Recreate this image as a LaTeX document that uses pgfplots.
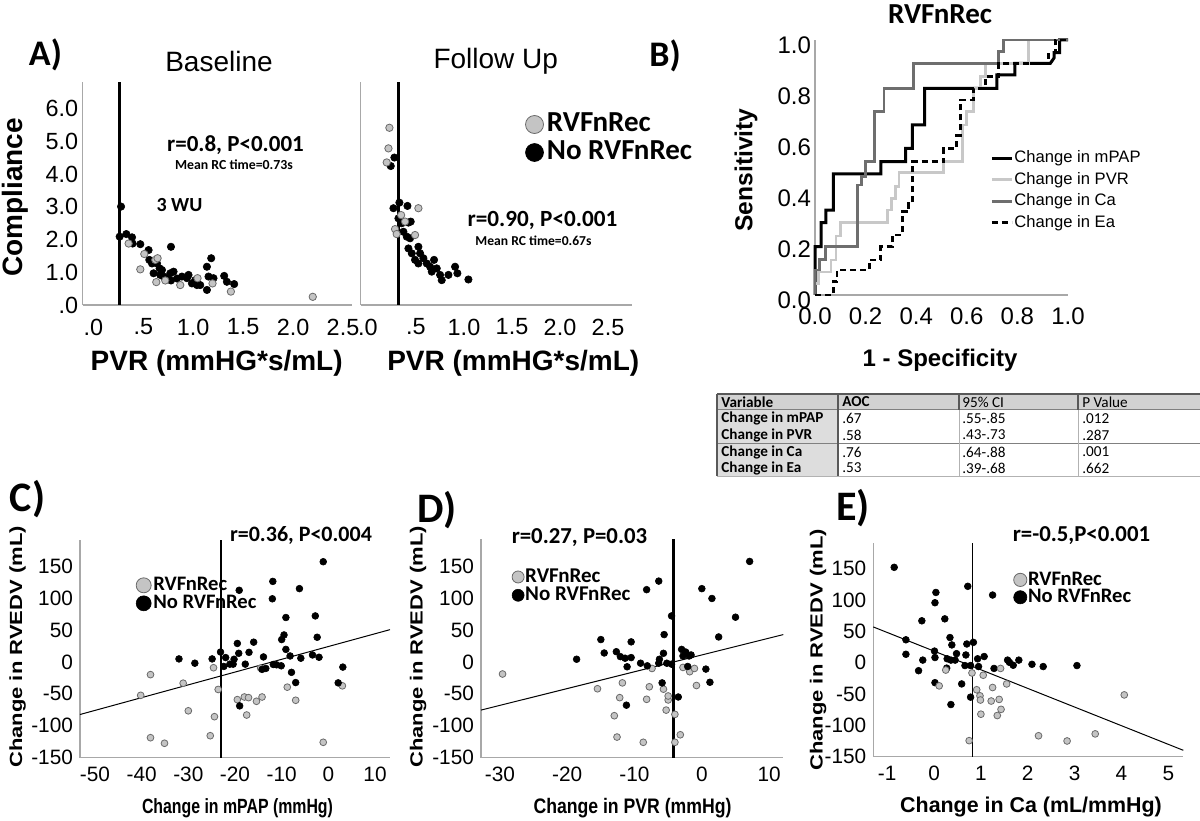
\documentclass[border=0pt]{standalone}
\usepackage{graphicx}
\usepackage{pgfplots}
\pgfplotsset{compat=1.18}
\usepackage{fontspec}
\setmainfont{Liberation Sans}
\newfontfamily\cali{Carlito}

\definecolor{ptgray}{HTML}{C4C4C4}
\definecolor{ptedge}{HTML}{6A6A6A}
\definecolor{spine}{HTML}{A8A8A8}
\definecolor{rocdark}{HTML}{6E6E6E}
\definecolor{roclight}{HTML}{C8C8C8}
\definecolor{tabgray}{HTML}{D2D2D2}

\newcommand\fs[1]{\fontsize{#1}{#1}\selectfont}

\pgfplotsset{
  panel/.style={scale only axis, anchor=south west, axis lines=left,
    axis line style={draw=spine, line width=0.7pt, -},
    major tick length=0pt, tick style={draw=none}, clip=false},
  blk/.style={only marks, mark=*, mark size=#1, mark options={fill=black, draw=black, line width=0.3pt}},
  gry/.style={only marks, mark=*, mark size=#1, mark options={fill=ptgray, draw=ptedge, line width=0.4pt}},
  dotleg/.style={legend image code/.code={\draw[##1, mark size=#1] plot coordinates {(0pt,0pt)};}},
  lineleg/.style={legend image code/.code={\draw[##1] (0pt,0pt) -- (10pt,0pt);}},
}

\begin{document}
\begin{tikzpicture}
\useasboundingbox (0,0) rectangle (600pt,410pt);

%================ A: Baseline
\begin{axis}[panel, at={(41.35pt,257.5pt)}, width=134.65pt, height=111.5pt,
  xmin=-0.107, xmax=2.59, ymin=0, ymax=6.82,
  xtick={0,0.5,1,1.5,2,2.5}, xticklabels={.0,.5,1.0,1.5,2.0,2.5},
  ytick={0,1,2,3,4,5,6}, yticklabels={.0,1.0,2.0,3.0,4.0,5.0,6.0},
  tick label style={font=\fs{11.7}}, xticklabel style={yshift=-3.4pt}, yticklabel style={xshift=1.2pt}]
\addplot[black, line width=1.3pt] coordinates {(0.26,0) (0.26,6.82)};
\addplot[blk=1.85pt] coordinates {
(0.277,3.01)(0.263,2.09)(0.33,2.17)(0.387,2.07)(0.393,1.88)(0.47,1.86)(0.553,1.68)(0.56,1.38)
(0.587,1.27)(0.603,0.97)(0.637,1.27)(0.663,1.12)(0.67,0.92)(0.687,1.07)(0.703,0.87)(0.777,1.78)
(0.77,0.97)(0.803,1.02)(0.777,0.75)(0.737,0.81)(0.837,0.81)(0.887,0.87)(0.937,0.82)(0.953,0.92)
(0.987,0.66)(1.02,0.76)(1.037,0.61)(1.07,0.61)(1.137,0.46)(1.137,1.17)(1.18,1.43)(1.153,0.87)
(1.203,0.82)(1.31,0.89)(1.337,0.71)(1.41,0.64)};
\addplot[gry=1.85pt] coordinates {
(0.353,1.88)(0.51,1.56)(0.47,1.09)(0.62,1.38)(0.643,1.43)(0.63,0.7)(0.72,0.75)(0.87,0.61)
(1.043,0.82)(1.193,0.66)(1.377,0.41)(2.197,0.25)};
\end{axis}

%================ A: Follow up
\begin{axis}[panel, at={(180.35pt,257.5pt)}, width=135.65pt, height=111.5pt,
  xmin=-0.076, xmax=2.75, ymin=0, ymax=6.82,
  xtick={0,0.5,1,1.5,2,2.5}, xticklabels={.0,.5,1.0,1.5,2.0,2.5},
  ytick=\empty,
  tick label style={font=\fs{11.7}}, xticklabel style={yshift=-3.4pt},
  dotleg=4.5pt, legend cell align=left,
  legend style={at={(0.606,0.874)}, anchor=north west, draw=none, fill=none, inner sep=0pt,
    font=\cali\bfseries\fs{14.5}, column sep=1.2pt, row sep=0pt,
    nodes={inner sep=0.5pt, text height=10pt, text depth=3pt}}]
\addlegendimage{gry=1.85pt}\addlegendentry{RVFnRec}
\addlegendimage{blk=1.85pt}\addlegendentry{No RVFnRec}
\addplot[black, line width=1.3pt, forget plot] coordinates {(0.315,0) (0.315,6.82)};
\addplot[blk=1.85pt, forget plot] coordinates {
(0.275,4.51)(0.237,4.25)(0.327,3.13)(0.265,2.96)(0.411,3.03)(0.317,2.65)(0.421,2.52)(0.445,2.55)
(0.352,2.50)(0.369,2.24)(0.404,2.09)(0.438,2.04)(0.421,1.73)(0.525,1.78)(0.456,1.58)(0.5425,1.58)
(0.577,1.43)(0.49,1.38)(0.525,1.27)(0.612,1.27)(0.688,1.38)(0.647,1.17)(0.716,1.12)(0.664,1.02)
(0.751,0.92)(0.768,0.76)(0.838,0.92)(0.907,1.17)(0.931,0.97)(1.046,0.78)};
\addplot[gry=1.85pt, forget plot] coordinates {
(0.223,5.42)(0.213,4.79)(0.195,4.36)(0.525,2.96)(0.345,2.75)(0.282,2.32)(0.299,2.17)(0.49,2.14)(0.386,2.55)};
\end{axis}

%================ B: ROC
\begin{axis}[panel, at={(407.5pt,262.5pt)}, width=126.5pt, height=127.5pt,
  xmin=0, xmax=1, ymin=0, ymax=1,
  xtick={0,0.2,0.4,0.6,0.8,1}, xticklabels={0.0,0.2,0.4,0.6,0.8,1.0},
  ytick={0,0.2,0.4,0.6,0.8,1}, yticklabels={0.0,0.2,0.4,0.6,0.8,1.0},
  tick label style={font=\fs{12}}, xticklabel style={yshift=-2.7pt}, yticklabel style={xshift=1.5pt,yshift=-2.5pt},
  lineleg, legend cell align=left,
  legend style={at={(0.692,0.575)}, anchor=north west, draw=none, fill=none, inner sep=0pt,
    font=\fs{8.3}, column sep=0pt, row sep=1.25pt,
    nodes={inner sep=0.5pt, text height=6.5pt, text depth=2pt}}]
\addplot[black, line width=1.5pt] coordinates {
(0,0)(0,0.19)(0.024,0.19)(0.024,0.284)(0.043,0.284)(0.043,0.333)(0.073,0.333)(0.073,0.475)
(0.26,0.475)(0.26,0.523)(0.358,0.523)(0.358,0.575)(0.385,0.575)(0.385,0.667)(0.433,0.667)
(0.433,0.81)(0.719,0.81)(0.719,0.863)(0.79,0.863)(0.79,0.908)(0.93,0.908)(0.945,0.93)
(0.945,0.95)(0.967,0.95)(0.967,1)(1,1)};
\addlegendentry{Change in mPAP}
\addplot[roclight, line width=1.4pt] coordinates {
(0,0)(0,0.046)(0.013,0.046)(0.013,0.09)(0.063,0.09)(0.063,0.137)(0.083,0.137)(0.083,0.231)
(0.1,0.231)(0.1,0.284)(0.286,0.284)(0.286,0.333)(0.302,0.333)(0.302,0.379)(0.319,0.379)
(0.319,0.425)(0.332,0.425)(0.332,0.48)(0.507,0.48)(0.507,0.523)(0.582,0.523)(0.582,0.667)
(0.6,0.667)(0.6,0.72)(0.625,0.72)(0.625,0.81)(0.653,0.81)(0.653,0.856)(0.673,0.856)
(0.673,0.908)(0.844,0.908)(0.844,1)(1,1)};
\addlegendentry{Change in PVR}
\addplot[rocdark, line width=1.4pt] coordinates {
(0,0)(0,0.098)(0.017,0.098)(0.017,0.14)(0.043,0.14)(0.043,0.19)(0.168,0.19)(0.168,0.431)
(0.185,0.431)(0.185,0.464)(0.2,0.464)(0.2,0.523)(0.234,0.523)(0.234,0.719)(0.273,0.719)
(0.273,0.81)(0.389,0.81)(0.389,0.908)(0.726,0.908)(0.726,0.954)(0.745,0.954)(0.745,1)(1,1)};
\addlegendentry{Change in Ca}
\addplot[black, line width=1.4pt, dash pattern=on 3pt off 2pt] coordinates {
(0,0)(0.073,0)(0.073,0.052)(0.087,0.052)(0.087,0.098)(0.214,0.098)(0.214,0.137)(0.26,0.137)
(0.26,0.19)(0.306,0.19)(0.306,0.235)(0.345,0.235)(0.345,0.327)(0.371,0.327)(0.371,0.36)
(0.385,0.36)(0.385,0.523)(0.509,0.523)(0.509,0.575)(0.56,0.575)(0.56,0.624)(0.575,0.624)
(0.575,0.765)(0.625,0.765)(0.625,0.81)(0.673,0.81)(0.673,0.856)(0.726,0.856)(0.726,0.908)
(0.924,0.908)(0.924,0.95)(0.95,0.95)(0.95,1)(1,1)};
\addlegendentry{Change in Ea}
\end{axis}

%================ C
\begin{axis}[panel, at={(40pt,31.15pt)}, width=155pt, height=108.85pt,
  xmin=-53.2, xmax=13.2, ymin=-150, ymax=190.7,
  xtick={-50,-40,-30,-20,-10,0,10}, xticklabels={-50,-40,-30,-20,-10,0,10},
  ytick={-150,-100,-50,0,50,100,150}, yticklabels={-150,-100,-50,0,50,100,150},
  tick label style={font=\fs{10.4}}, xticklabel style={yshift=-1.3pt},
  dotleg=3.75pt, legend cell align=left,
  legend style={at={(0.18,0.835)}, anchor=north west, draw=none, fill=none, inner sep=0pt,
    font=\cali\bfseries\fs{10.3}, column sep=0.8pt, row sep=0pt,
    nodes={inner sep=0.25pt, text height=6.8pt, text depth=1.7pt}}]
\addlegendimage{gry=1.7pt}\addlegendentry{RVFnRec}
\addlegendimage{blk=1.7pt}\addlegendentry{No RVFnRec}
\addplot[black, line width=0.5pt, forget plot] coordinates {(-53.2,-82.4) (13.2,50.4)};
\addplot[black, line width=1.2pt, forget plot] coordinates {(-23,-150) (-23,190.7)};
\addplot[gry=1.7pt, forget plot] coordinates {
(-40.2,-52.4)(-38.1,-20)(-38.1,-118.7)(-35.1,-127.4)(-31.1,-33.4)(-30,-76.6)(-24.6,-9.2)
(-24.4,-85.8)(-25.3,-115.6)(-23.6,-43.2)(-19.5,-59.1)(-18,-55)(-17.1,-56)(-17.5,-83.2)
(-15.4,-61.7)(-14.2,-55)(-14.5,-9.8)(-8.8,-39.6)(-7,-60.1)(-1.1,-125.9)(3,-37.5)};
\addplot[blk=1.7pt, forget plot] coordinates {
(-32,4.6)(-28.6,-2.1)(-24.9,4.6)(-23.1,15.4)(-22.4,-7.2)(-22,6.7)(-21.1,-3.6)(-20.4,-3.6)
(-20.2,4.1)(-19.5,28.8)(-19.2,13.4)(-19.1,112)(-19,-68.9)(-17.8,-3.6)(-17,14.9)(-16,30.8)
(-13.9,7.7)(-14.2,-11.8)(-13.4,-10.3)(-12,98.7)(-11.9,125.9)(-11.8,-4.1)(-11.1,-4.6)
(-10.1,-6.2)(-10,34.9)(-9.5,42.1)(-9.1,69.4)(-9.1,19.5)(-8.2,9.2)(-7.9,-16.4)(-7,-32.4)
(-6.2,114.6)(-5.9,5.7)(-3.4,10.8)(-2.8,71.9)(-2.4,38.5)(-2,7.2)(-1.1,156.7)(2.1,-32.9)(3.1,-8.2)};
\end{axis}

%================ D
\begin{axis}[panel, at={(240.5pt,31.15pt)}, width=151.15pt, height=109.35pt,
  xmin=-32.8, xmax=12.1, ymin=-150, ymax=192.3,
  xtick={-30,-20,-10,0,10}, xticklabels={-30,-20,-10,0,10},
  ytick={-150,-100,-50,0,50,100,150}, yticklabels={-150,-100,-50,0,50,100,150},
  tick label style={font=\fs{10.4}}, xticklabel style={yshift=-1.3pt},
  dotleg=3pt, legend cell align=left,
  legend style={at={(0.1016,0.87)}, anchor=north west, draw=none, fill=none, inner sep=0pt,
    font=\cali\bfseries\fs{10.5}, column sep=0.3pt, row sep=0pt,
    nodes={inner sep=0.25pt, text height=6.9pt, text depth=1.75pt}}]
\addlegendimage{gry=1.7pt}\addlegendentry{RVFnRec}
\addlegendimage{blk=1.7pt}\addlegendentry{No RVFnRec}
\addplot[black, line width=0.5pt, forget plot] coordinates {(-32.8,-75.5) (12.1,42.7)};
\addplot[black, line width=1.2pt, forget plot] coordinates {(-4.2,-150) (-4.2,192.3)};
\addplot[gry=1.7pt, forget plot] coordinates {
(-29.6,-19)(-15.5,-42.1)(-12.2,-56)(-11.8,-32.9)(-13,-84.3)(-12.6,-117.7)(-8.7,-125.9)
(-8.2,-58.6)(-7.8,-39)(-7.4,-10.3)(-5.7,-42.7)(-5.3,-75.5)(-5,-59.6)(-5,-53.4)(-4,-82.2)
(-4,-125.9)(-3.2,-114.1)(-2.8,-8.7)(-1.8,-15.4)(-1.1,-10.3)(-0.8,-37)};
\addplot[blk=1.7pt, forget plot] coordinates {
(-18.6,4.1)(-15,34.9)(-14.5,13.9)(-12.7,15.9)(-12.1,8.2)(-11.4,5.7)(-11.1,-7.7)(-10.5,31.3)
(-10.5,6.7)(-9.1,-2.1)(-8.1,-6.2)(-8.2,113)(-6.4,126.4)(-6.4,-2.1)(-6.3,4.1)(-5.9,-32.9)
(-5.7,13.4)(-5.6,42.7)(-5.2,-2.1)(-4.5,71.9)(-4.5,-3.6)(-3,19.5)(-2.8,9.2)(-2.4,15.4)
(-2.1,-7.2)(-1.9,9.2)(-1.6,10.8)(-3.5,-55)(-11.2,-67.8)(0,114.6)(0.6,-11.3)(1.2,-31.9)
(1.5,99.2)(2.5,39)(5,69.9)(7.1,157.2)};
\end{axis}

%================ E
\begin{axis}[panel, at={(436.65pt,31.65pt)}, width=155pt, height=106.85pt,
  xmin=-1.296, xmax=5.32, ymin=-150, ymax=190.9,
  xtick={-1,0,1,2,3,4,5}, xticklabels={-1,0,1,2,3,4,5},
  ytick={-150,-100,-50,0,50,100,150}, yticklabels={-150,-100,-50,0,50,100,150},
  tick label style={font=\fs{10.4}}, xticklabel style={yshift=-1.3pt},
  dotleg=3.3pt, legend cell align=left,
  legend style={at={(0.4516,0.87)}, anchor=north west, draw=none, fill=none, inner sep=0pt,
    font=\cali\bfseries\fs{10.3}, column sep=0.3pt, row sep=0pt,
    nodes={inner sep=0.25pt, text height=6.7pt, text depth=1.5pt}}]
\addlegendimage{gry=1.7pt}\addlegendentry{RVFnRec}
\addlegendimage{blk=1.7pt}\addlegendentry{No RVFnRec}
\addplot[black, line width=0.5pt, forget plot] coordinates {(-1.296,57) (5.32,-139.8)};
\addplot[black, line width=0.6pt, forget plot] coordinates {(0.82,-150) (0.82,190.9)};
\addplot[blk=1.7pt, forget plot] coordinates {
(-0.85,152.1)(-0.6,36.5)(-0.6,13.4)(-0.33,-12.8)(-0.26,66.8)(-0.24,4.1)(0.02,95.6)(0.04,112)
(0.01,18.5)(0.02,8.2)(0.02,-31.9)(0.23,69.9)(0.27,-8.7)(0.28,6.2)(0.34,40.1)(0.36,4.1)
(0.38,28.3)(0.45,4.1)(0.48,14.4)(0.36,-66.8)(0.59,-33.9)(0.66,-4.6)(0.68,12.3)(0.70,29.8)
(0.72,121.8)(0.78,-4.6)(0.78,-55)(0.84,32.4)(0.93,6.2)(0.95,-6.2)(1.07,9.8)(1.25,107.9)
(1.28,-9.2)(1.57,4.1)(1.61,0.5)(1.69,-4.1)(1.81,4.1)(2.09,-2.6)(2.33,-6.2)(3.05,-4.6)};
\addplot[gry=1.7pt, forget plot] coordinates {
(0.11,-37)(0.25,-11.8)(0.75,-124.4)(0.81,-16.4)(0.91,-43.2)(0.98,-52.9)(0.99,-59.6)(1.0,-82.2)
(1.05,-20)(1.25,-39.6)(1.22,-61.2)(1.39,-58.6)(1.42,-9.2)(1.43,-74.5)(1.35,-84.3)(1.55,-33.9)
(2.23,-116.6)(2.84,-124.9)(3.44,-113.6)(4.06,-51.4)};
\end{axis}

%================ text, in pixel coordinates
\begin{scope}[x=0.5pt,y=-0.5pt,yshift=410pt]
% panel letters
\node[font=\cali\bfseries\fs{18}] at (45.5,55) {A)};
\node[font=\cali\bfseries\fs{18}] at (665,56) {B)};
\node[font=\cali\bfseries\fs{21}] at (27.5,499) {C)};
\node[font=\cali\bfseries\fs{21}] at (437,510) {D)};
\node[font=\cali\bfseries\fs{21}] at (853,508) {E)};
% A
\node[font=\fs{14}] at (219,61) {Baseline};
\node[font=\fs{14}] at (495.8,61) {Follow Up};
\node[font=\bfseries\fs{14}, rotate=90] at (15,197.5) {Compliance};
\node[font=\bfseries\fs{14}] at (216.7,363.3) {PVR (mmHG*s/mL)};
\node[font=\bfseries\fs{14}] at (513.3,363.3) {PVR (mmHG*s/mL)};
\node[font=\cali\bfseries\fs{11.5}] at (235.5,145) {r=0.8, P<0.001};
\node[font=\cali\bfseries\fs{6.9}] at (234,165) {Mean RC time=0.73s};
\node[font=\cali\bfseries\fs{10}] at (179.5,205) {3 WU};
\node[font=\cali\bfseries\fs{11.6}] at (542.5,220) {r=0.90, P<0.001};
\node[font=\cali\bfseries\fs{6.8}] at (533.5,241) {Mean RC time=0.67s};
% B
\node[font=\cali\bfseries\fs{14.5}] at (940,14) {RVFnRec};
\node[font=\bfseries\fs{12.3}, rotate=90] at (746,170) {Sensitivity};
\node[font=\bfseries\fs{12}] at (940,360) {1 - Specificity};
% table
\fill[tabgray] (717,394) rectangle (1200,410);
\fill[tabgray!75] (717,410) rectangle (838,476);
\draw[gray!70!black, line width=0.6pt] (717,394) -- (1200,394);
\draw[gray, line width=0.5pt] (717,410) -- (1200,410);
\draw[gray, line width=0.5pt] (717,444) -- (1200,444);
\draw[gray!60, line width=0.4pt] (717,476) -- (1200,476);
\draw[gray!70!black, line width=0.6pt] (717,394) -- (717,476);
\draw[gray!70!black, line width=0.6pt] (838,394) -- (838,476);
\draw[gray!70!black, line width=0.6pt] (959,394) -- (959,410);
\draw[gray!70!black, line width=0.6pt] (1078,394) -- (1078,410);
\draw[gray!60, line width=0.4pt] (959,410) -- (959,476);
\draw[gray!60, line width=0.4pt] (1078,410) -- (1078,476);
\begin{scope}[every node/.style={anchor=west, font=\cali\fs{7.6}, inner sep=0pt}]
\node[font=\cali\bfseries\fs{7.6}] at (721,402) {Variable};
\node[font=\cali\bfseries\fs{7.6}] at (842,402) {AOC};
\node at (962,402) {95\% CI};
\node at (1082,402) {P Value};
\node[font=\cali\bfseries\fs{7.6}] at (721,418.5) {Change in mPAP};
\node[font=\cali\bfseries\fs{7.6}] at (721,435) {Change in PVR};
\node[font=\cali\bfseries\fs{7.6}] at (721,452) {Change in Ca};
\node[font=\cali\bfseries\fs{7.6}] at (721,468) {Change in Ea};
\node at (842,418.5) {.67}; \node at (962,418.5) {.55-.85}; \node at (1082,418.5) {.012};
\node at (842,435) {.58}; \node at (962,435) {.43-.73}; \node at (1082,435) {.287};
\node at (842,452) {.76}; \node at (962,452) {.64-.88}; \node at (1082,452) {.001};
\node at (842,468) {.53}; \node at (962,468) {.39-.68}; \node at (1082,468) {.662};
\end{scope}
% C D E
\node[font=\cali\bfseries\fs{11}] at (301,535.5) {r=0.36, P<0.004};
\node[font=\cali\bfseries\fs{11.4}] at (579.5,538) {r=0.27, P=0.03};
\node[font=\cali\bfseries\fs{11.4}] at (1081.5,535.5) {r=-0.5,P<0.001};
\node[font=\bfseries\fs{11}, rotate=90] at (17.5,647) {\scalebox{1}[0.8]{Change in RVEDV (mL)}};
\node[font=\bfseries\fs{11}, rotate=90] at (418,647) {\scalebox{1}[0.8]{Change in RVEDV (mL)}};
\node[font=\bfseries\fs{11}, rotate=90] at (818,650) {\scalebox{1}[0.8]{Change in RVEDV (mL)}};
\node[font=\bfseries\fs{10.3}] at (237.5,808.3) {\scalebox{0.77}[1]{Change in mPAP (mmHg)}};
\node[font=\bfseries\fs{10.5}] at (632.5,808) {\scalebox{0.84}[1]{Change in PVR (mmHg)}};
\node[font=\bfseries\fs{10.7}] at (1031,806.7) {Change in Ca (mL/mmHg)};
\end{scope}
\end{tikzpicture}
\end{document}
